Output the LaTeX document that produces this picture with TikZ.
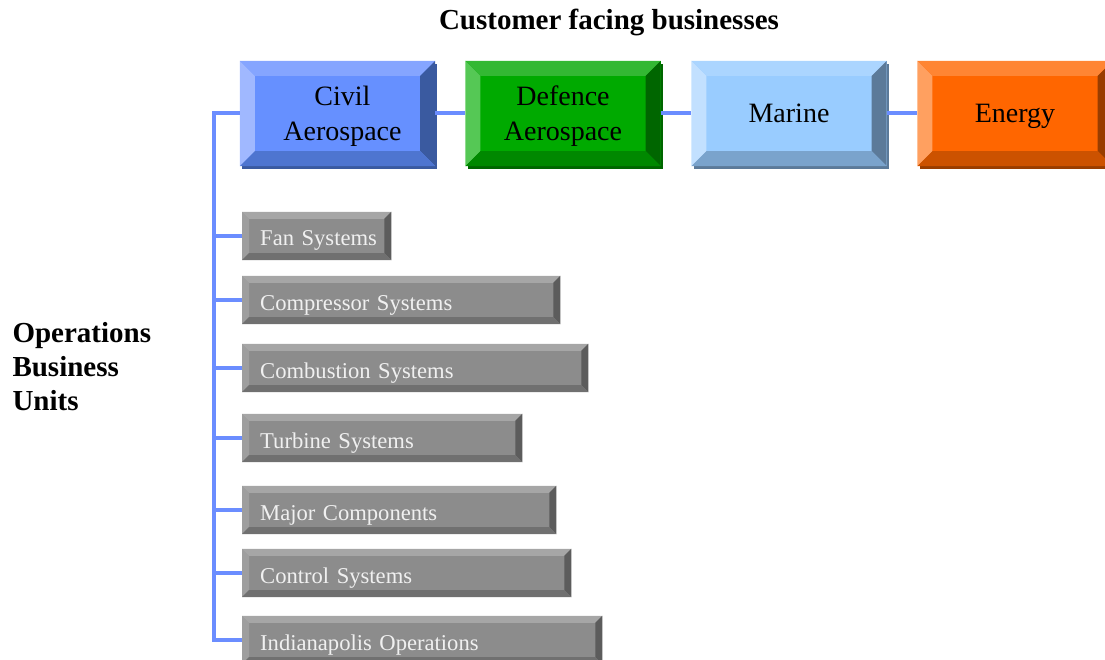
\documentclass[tikz,border=0pt]{standalone}
\usepackage{fontspec}
\setmainfont{Liberation Serif}
\usetikzlibrary{calc,shadows}

% face and bevel colours (L=left, T=top, R=right, B=bottom)
\definecolor{civilF}{HTML}{6690FF}
\definecolor{civilL}{HTML}{A0B8FF}
\definecolor{civilT}{HTML}{85A5FF}
\definecolor{civilR}{HTML}{3A5AA0}
\definecolor{civilB}{HTML}{4E75D0}
\definecolor{defenceF}{HTML}{00AA00}
\definecolor{defenceL}{HTML}{55C855}
\definecolor{defenceT}{HTML}{33B833}
\definecolor{defenceR}{HTML}{006600}
\definecolor{defenceB}{HTML}{008800}
\definecolor{marineF}{HTML}{99CCFF}
\definecolor{marineL}{HTML}{C2E0FF}
\definecolor{marineT}{HTML}{ABD5FF}
\definecolor{marineR}{HTML}{5C7A99}
\definecolor{marineB}{HTML}{7AA3CC}
\definecolor{energyF}{HTML}{FF6600}
\definecolor{energyL}{HTML}{FFA060}
\definecolor{energyT}{HTML}{FF8533}
\definecolor{energyR}{HTML}{993D00}
\definecolor{energyB}{HTML}{CC5200}
\definecolor{unitF}{HTML}{8C8C8C}
\definecolor{unitL}{HTML}{9E9E9E}
\definecolor{unitT}{HTML}{A6A6A6}
\definecolor{unitR}{HTML}{5C5C5C}
\definecolor{unitB}{HTML}{707070}
\definecolor{unitText}{HTML}{F0F0F0}
\definecolor{linkblue}{HTML}{6B8DFF}

% bevelled edges round a node: node, colour prefix, bevel width
\newcommand{\bevels}[3]{%
  \fill[#2L] (#1.south west) -- (#1.north west) -- ($(#1.north west)+(#3,-#3)$) -- ($(#1.south west)+(#3,#3)$) -- cycle;
  \fill[#2T] (#1.north west) -- (#1.north east) -- ($(#1.north east)+(-#3,-#3)$) -- ($(#1.north west)+(#3,-#3)$) -- cycle;
  \fill[#2R] (#1.north east) -- (#1.south east) -- ($(#1.south east)+(-#3,#3)$) -- ($(#1.north east)+(-#3,-#3)$) -- cycle;
  \fill[#2B] (#1.south east) -- (#1.south west) -- ($(#1.south west)+(#3,#3)$) -- ($(#1.south east)+(-#3,#3)$) -- cycle;
}

\tikzset{
  biz/.style={minimum width=195pt, minimum height=105pt, inner sep=0pt, align=center,
    fill=#1F, font=\fontsize{28}{35}\selectfont, text height=18.5pt, text depth=0pt,
    drop shadow={shadow xshift=2pt, shadow yshift=-3pt, fill=#1R, opacity=1}},
  twolines/.style={text height=55pt, text depth=0pt},
  unit/.style={text width=#1, minimum height=48pt, inner xsep=0pt, inner ysep=0pt,
    anchor=west, align=left, fill=unitF, text=unitText, text height=20pt, text depth=0pt,
    font=\fontsize{22.6}{26}\selectfont, execute at begin node={\hspace*{18pt}}},
  link/.style={draw=linkblue, line width=4pt},
  heading/.style={font=\fontsize{29}{34}\selectfont\bfseries}
}

\begin{document}
\begin{tikzpicture}[x=1pt, y=-1pt]
    \useasboundingbox (0,0) rectangle (1105,660);

    % headings
    \node[heading] (title) at (609,22) {Customer facing businesses};
    \node[heading, anchor=west, align=left] (ops) at (9,367) {Operations\\Business\\Units};

    % customer facing businesses
    \node[biz=civil, twolines] (civil) at (337.5,113.5) {\hspace*{10pt}Civil\\\hspace*{10pt}Aerospace};
    \node[biz=defence, twolines] (defence) at (563,113.5) {Defence\\Aerospace};
    \node[biz=marine] (marine) at (789,113.5) {Marine};
    \node[biz=energy] (energy) at (1015,113.5) {Energy};
    \bevels{civil}{civil}{15pt}
    \bevels{defence}{defence}{15pt}
    \bevels{marine}{marine}{15pt}
    \bevels{energy}{energy}{15pt}

    \draw[link] (civil.east) -- (defence.west);
    \draw[link] (defence.east) -- (marine.west);
    \draw[link] (marine.east) -- (energy.west);

    % operations business units
    \coordinate (spine) at (214,113.5);
    \foreach \n/\w/\y/\t in {fan/149/236/Fan Systems,
                             comp/318/300/Compressor Systems,
                             comb/346/368/Combustion Systems,
                             turb/280/438/Turbine Systems,
                             major/314/510/Major Components,
                             ctrl/329/573/Control Systems,
                             indy/360/640/Indianapolis Operations} {
        \node[unit=\w pt] (\n) at (242,\y) {\t};
        \bevels{\n}{unit}{7pt}
        \draw[link] (\n.west) -- (\n.west -| spine);
    }
    \draw[link] (civil.west) -- (spine) |- (indy.west);
\end{tikzpicture}
\end{document}
